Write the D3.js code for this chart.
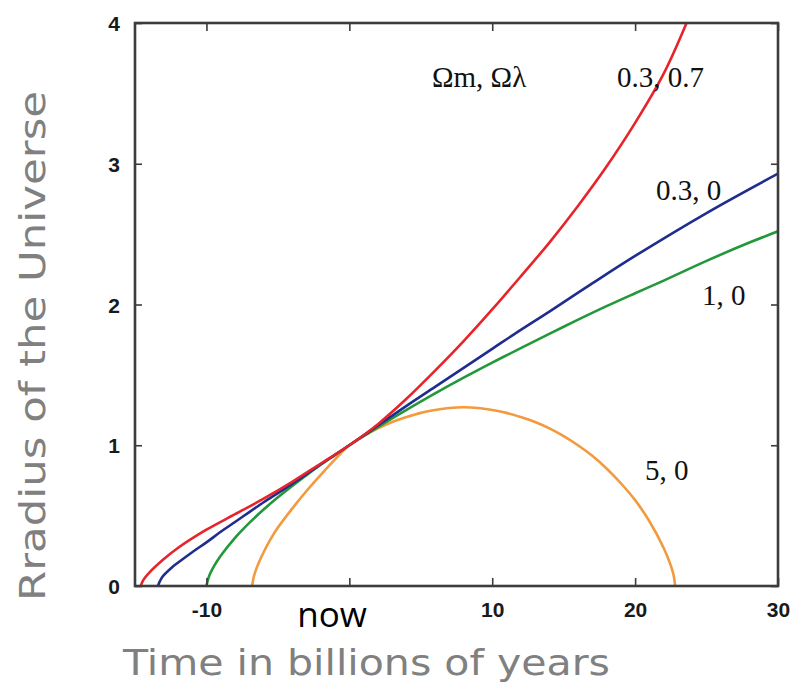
<!DOCTYPE html>
<html>
<head>
<meta charset="utf-8">
<script src="https://cdn.jsdelivr.net/npm/d3@7"></script>
<style>
  html, body { margin: 0; padding: 0; background: #fff; }
  svg { display: block; }
</style>
</head>
<body>
<svg id="chart" width="795" height="686"></svg>
<script>
// ---- data ----
const xTicks = [-10, 0, 10, 20, 30];
const yTicks = [0, 1, 2, 3, 4];

const redT   = [-14.6, -14.4, -14, -13, -12, -10, -8, -6, -4, -2, 0, 2, 4, 6, 8, 10, 12, 14, 16, 18, 20, 22, 23.6];
const redA   = [0, 0.045, 0.095, 0.19, 0.27, 0.40, 0.51, 0.62, 0.74, 0.87, 1.0, 1.15, 1.33, 1.53, 1.74, 1.965, 2.20, 2.44, 2.70, 2.98, 3.29, 3.64, 4.0];

const blueT  = [-13.4, -13.2, -13, -12.5, -12, -11, -10, -9, -8, -7, -6, -5, -4, -3, -2, -1, 0, 2, 4, 6, 8, 10, 12, 14, 17, 20, 25, 30];
const blueA  = [0, 0.045, 0.075, 0.125, 0.165, 0.24, 0.31, 0.385, 0.455, 0.525, 0.595, 0.66, 0.725, 0.795, 0.865, 0.932, 1.0, 1.14, 1.28, 1.415, 1.55, 1.685, 1.82, 1.95, 2.15, 2.345, 2.65, 2.93];

const greenT = [-10, -9.8, -9.5, -9, -8, -7, -6, -5, -4, -3, -2, -1, 0, 2, 4, 6, 8, 10, 12, 15, 18, 20, 22, 25, 28, 30];
const greenA = [0, 0.074, 0.136, 0.215, 0.342, 0.448, 0.543, 0.63, 0.711, 0.788, 0.862, 0.932, 1.0, 1.129, 1.251, 1.368, 1.48, 1.587, 1.69, 1.842, 1.988, 2.08, 2.17, 2.31, 2.44, 2.52];

const orangeT = [-6.8, -6.7, -6.5, -6, -5.5, -5, -4, -3, -2, -1, 0, 1, 2, 3, 4, 5, 6, 7, 8, 9, 10, 11, 12, 13, 14, 15, 16, 17, 18, 19, 20, 21, 22, 22.5, 22.7, 22.8];
const orangeA = [0, 0.06, 0.125, 0.24, 0.335, 0.415, 0.55, 0.675, 0.79, 0.90, 1.0, 1.065, 1.12, 1.165, 1.20, 1.23, 1.25, 1.265, 1.27, 1.265, 1.25, 1.23, 1.20, 1.165, 1.12, 1.065, 1.0, 0.925, 0.835, 0.73, 0.61, 0.46, 0.27, 0.145, 0.075, 0];

const seriesNames  = ["0.3, 0.7", "0.3, 0", "1, 0", "5, 0"];
const seriesColors = ["#e8242b", "#1f2e8e", "#22983a", "#f29a3e"];

// ---- layout ----
const svg = d3.select("#chart");
const x = d3.scaleLinear().domain([-15, 30]).range([135, 778]);
const y = d3.scaleLinear().domain([0, 4]).range([586, 23]);

const series = [
  { t: redT, a: redA },
  { t: blueT, a: blueA },
  { t: greenT, a: greenA },
  { t: orangeT, a: orangeA }
];

svg.append("defs").append("clipPath").attr("id", "plot")
  .append("rect").attr("x", 135).attr("y", 23).attr("width", 643).attr("height", 563);

const line = d3.line()
  .x(d => x(d[0]))
  .y(d => y(d[1]))
  .curve(d3.curveCatmullRom.alpha(0.5));

const g = svg.append("g").attr("clip-path", "url(#plot)");
// draw orange first, then green, blue, red on top
[3, 2, 1, 0].forEach(i => {
  const s = series[i];
  g.append("path")
    .datum(s.t.map((t, k) => [t, s.a[k]]))
    .attr("fill", "none")
    .attr("stroke", seriesColors[i])
    .attr("stroke-width", 2.6)
    .attr("stroke-linejoin", "round")
    .attr("d", line);
});

// frame and ticks (inward)
const frameColor = "#3c3c3c";
const xFmt = d => (d === 0 ? "" : String(d));
const yFmt = d => String(d);

const xb = svg.append("g").attr("transform", "translate(0,586)")
  .call(d3.axisBottom(x).tickValues(xTicks).tickSize(-8).tickPadding(16).tickFormat(xFmt));
const xt = svg.append("g").attr("transform", "translate(0,23)")
  .call(d3.axisTop(x).tickValues(xTicks).tickSize(-8).tickFormat(""));
const yl = svg.append("g").attr("transform", "translate(135,0)")
  .call(d3.axisLeft(y).tickValues(yTicks).tickSize(-7).tickPadding(15).tickFormat(yFmt));
const yr = svg.append("g").attr("transform", "translate(778,0)")
  .call(d3.axisRight(y).tickValues(yTicks).tickSize(-7).tickFormat(""));

[xb, xt, yl, yr].forEach(a => {
  a.select(".domain").remove();
  a.selectAll(".tick line").attr("stroke", frameColor).attr("stroke-width", 1.6);
  a.selectAll(".tick text")
    .attr("fill", "#1a1a1a")
    .style("font-family", "'Liberation Sans', Arial, sans-serif")
    .style("font-weight", "bold")
    .style("font-size", "21px");
});
yl.selectAll(".tick text").attr("dy", "0.36em");

svg.append("rect")
  .attr("x", 135).attr("y", 23).attr("width", 643).attr("height", 563)
  .attr("fill", "none").attr("stroke", frameColor).attr("stroke-width", 2.6);

// white box with "now"
svg.append("rect").attr("x", 280).attr("y", 589).attr("width", 147).attr("height", 47).attr("fill", "#fff");
svg.append("text").attr("x", 332).attr("y", 627)
  .attr("text-anchor", "middle")
  .style("font-family", "'Open Sans', 'Liberation Sans', sans-serif")
  .style("font-size", "35px")
  .attr("fill", "#000")
  .text("now");

// annotations
const serif = "'Liberation Serif', 'Times New Roman', serif";
const ann = [
  { text: "\u03A9m, \u03A9\u03BB", x: 432, y: 87 },
  { text: seriesNames[0], x: 617, y: 87 },
  { text: seriesNames[1], x: 656, y: 200 },
  { text: seriesNames[2], x: 702, y: 305 },
  { text: seriesNames[3], x: 645, y: 480 }
];
ann.forEach(d => {
  svg.append("text").attr("x", d.x).attr("y", d.y)
    .style("font-family", serif).style("font-size", "29px")
    .attr("fill", "#111").text(d.text);
});

// axis titles
const titleFont = "'DejaVu Sans', 'Noto Sans', sans-serif";
svg.append("text").attr("x", 123).attr("y", 675)
  .attr("textLength", 487).attr("lengthAdjust", "spacingAndGlyphs")
  .style("font-family", titleFont).style("font-size", "36px")
  .attr("fill", "#808080")
  .text("Time in billions of years");

svg.append("text")
  .attr("transform", "translate(45,601) rotate(-90)")
  .attr("x", 0).attr("y", 0)
  .attr("textLength", 510).attr("lengthAdjust", "spacingAndGlyphs")
  .style("font-family", titleFont).style("font-size", "36px")
  .attr("fill", "#808080")
  .text("Rradius of the Universe");
</script>
</body>
</html>
